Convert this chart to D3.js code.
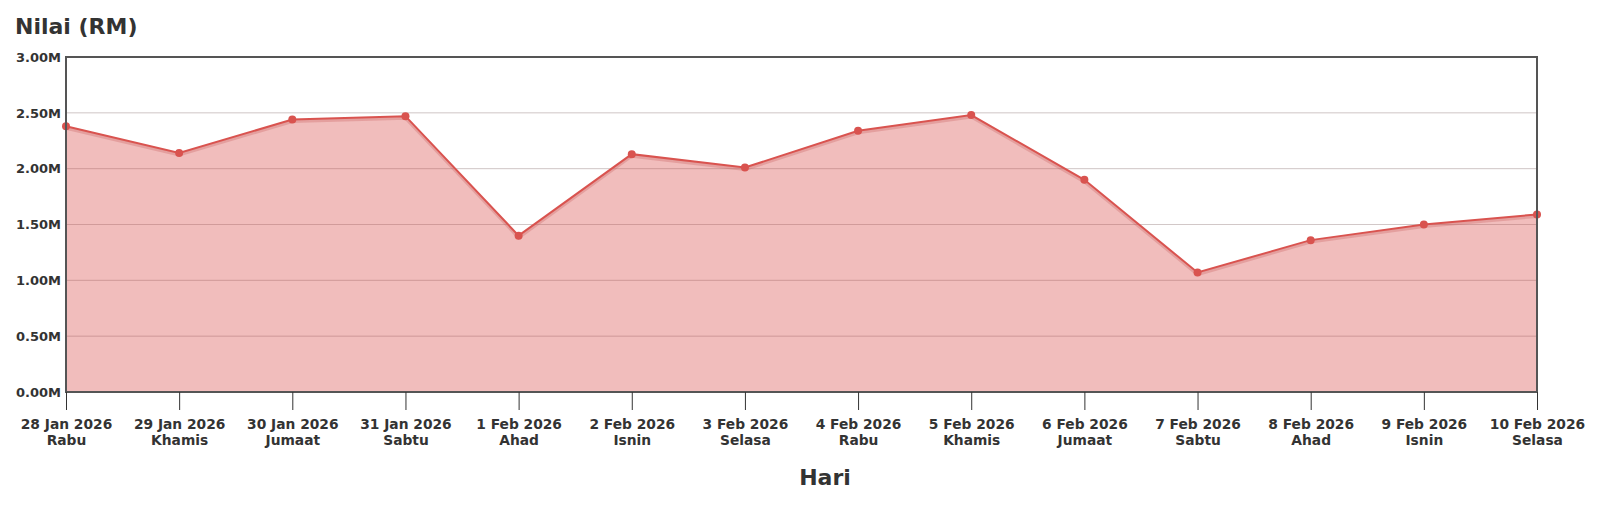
<!DOCTYPE html>
<html><head><meta charset="utf-8">
<script src="https://cdn.jsdelivr.net/npm/d3@7"></script>
<style>body{margin:0;background:#fff;font-family:"DejaVu Sans",sans-serif;}</style>
</head><body><svg id="c" width="1600" height="523"></svg>
<script>
const dates = ["28 Jan 2026","29 Jan 2026","30 Jan 2026","31 Jan 2026","1 Feb 2026","2 Feb 2026","3 Feb 2026","4 Feb 2026","5 Feb 2026","6 Feb 2026","7 Feb 2026","8 Feb 2026","9 Feb 2026","10 Feb 2026"];
const days = ["Rabu","Khamis","Jumaat","Sabtu","Ahad","Isnin","Selasa","Rabu","Khamis","Jumaat","Sabtu","Ahad","Isnin","Selasa"];
const values = [2.38,2.14,2.44,2.47,1.40,2.13,2.01,2.34,2.48,1.90,1.07,1.36,1.50,1.59].map(v=>v*1e6);
const yTicks = [0,0.5e6,1e6,1.5e6,2e6,2.5e6,3e6];

const svg = d3.select("#c");
const m = {l:66, r:1537, t:57, b:392};
const x = d3.scalePoint().domain(d3.range(dates.length)).range([m.l, m.r]);
const y = d3.scaleLinear().domain([0,3e6]).range([m.b, m.t]);
const fmt = v => (v/1e6).toFixed(2)+"M";

const data = values.map((v,i)=>({i,v}));
const area = d3.area().x(d=>x(d.i)).y0(y(0)).y1(d=>y(d.v));
const line = d3.line().x(d=>x(d.i)).y(d=>y(d.v));

// grid
svg.append("g").selectAll("line").data(yTicks.slice(1,-1)).join("line")
  .attr("x1",m.l).attr("x2",m.r).attr("y1",d=>y(d)).attr("y2",d=>y(d))
  .attr("stroke","#ddd").attr("stroke-width",1);

svg.append("path").datum(data).attr("d",area).attr("fill","rgba(221,90,88,0.4)");
svg.append("g").selectAll("line").data(yTicks.slice(1,-1)).join("line")
  .attr("x1",m.l).attr("x2",m.r).attr("y1",d=>y(d)).attr("y2",d=>y(d))
  .attr("stroke","rgba(150,80,80,0.15)").attr("stroke-width",1);

svg.append("path").datum(data).attr("d",line).attr("fill","none")
  .attr("stroke","rgba(200,90,90,0.3)").attr("stroke-width",3).attr("transform","translate(0,2)");
svg.append("path").datum(data).attr("d",line).attr("fill","none")
  .attr("stroke","#d9534f").attr("stroke-width",2);
svg.append("g").selectAll("circle").data(data).join("circle")
  .attr("cx",d=>x(d.i)).attr("cy",d=>y(d.v)).attr("r",4).attr("fill","#d9534f");

// frame
svg.append("rect").attr("x",m.l).attr("y",m.t).attr("width",m.r-m.l).attr("height",m.b-m.t)
  .attr("fill","none").attr("stroke","#555").attr("stroke-width",2);

// y axis labels
const ya = svg.append("g").attr("transform",`translate(${m.l},0)`)
  .call(d3.axisLeft(y).tickValues(yTicks).tickFormat(fmt).tickSize(0).tickPadding(5));
ya.select(".domain").remove();
ya.selectAll("text").attr("font-family","DejaVu Sans").attr("font-weight","bold").attr("font-size",13).attr("fill","#333");

// x axis
const xa = svg.append("g").attr("transform",`translate(0,${m.b})`)
  .call(d3.axisBottom(x).tickSize(18).tickFormat(""));
xa.select(".domain").remove();
xa.selectAll("line").attr("stroke","#333");
xa.selectAll(".tick").each(function(d){
  const t = d3.select(this).append("text").attr("text-anchor","middle")
    .attr("font-family","DejaVu Sans").attr("font-weight","bold").attr("font-size",13.8).attr("fill","#333");
  t.append("tspan").attr("x",0).attr("y",37).text(dates[d]);
  t.append("tspan").attr("x",0).attr("y",53).text(days[d]);
});

svg.append("text").attr("x",15).attr("y",34).text("Nilai (RM)")
  .attr("font-family","DejaVu Sans").attr("font-weight","bold").attr("font-size",22).attr("fill","#333");
svg.append("text").attr("x",825).attr("y",485).attr("text-anchor","middle").text("Hari")
  .attr("font-family","DejaVu Sans").attr("font-weight","bold").attr("font-size",22).attr("fill","#333");
</script></body></html>
